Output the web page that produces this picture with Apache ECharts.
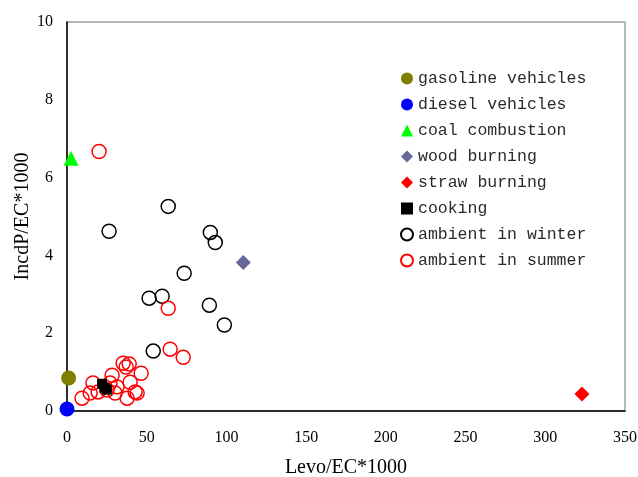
<!DOCTYPE html>
<html>
<head>
<meta charset="utf-8">
<script src="https://cdn.jsdelivr.net/npm/echarts@6/dist/echarts.min.js"></script>
<style>html,body{margin:0;padding:0;background:#fff}#c{width:638px;height:477px}</style>
</head>
<body>
<div id="c"></div>
<script>
var xTicks = [0, 50, 100, 150, 200, 250, 300, 350];
var yTicks = [0, 2, 4, 6, 8, 10];
var seriesNames = ['gasoline vehicles', 'diesel vehicles', 'coal combustion', 'wood burning', 'straw burning', 'cooking', 'ambient in winter', 'ambient in summer'];
var gasoline = [[1, 0.85]];
var diesel = [[0, 0.05]];
var coal = [[2.5, 6.5]];
var wood = [[110.6, 3.82]];
var straw = [[323, 0.44]];
var cooking = [[22, 0.7], [23.5, 0.6], [25, 0.55]];
var winter = [[63.5, 5.26], [26.4, 4.62], [89.9, 4.59], [93.0, 4.33], [73.5, 3.54], [51.5, 2.90], [59.7, 2.95], [89.3, 2.72], [98.7, 2.21], [54.1, 1.54]];
var summer = [[20.1, 6.67], [63.5, 2.64], [64.7, 1.59], [72.9, 1.38], [35.2, 1.23], [39.0, 1.21], [37.1, 1.13], [46.5, 0.97], [28.3, 0.92], [27.0, 0.72], [39.6, 0.74], [31.4, 0.62], [14.5, 0.46], [19.5, 0.49], [25.1, 0.54], [30.2, 0.46], [42.7, 0.49], [44.0, 0.46], [9.4, 0.33], [37.7, 0.33], [16.3, 0.72]];

var chart = echarts.init(document.getElementById('c'));
var serif = 'Liberation Serif';
function filled(name, data, symbol, size, color) {
  return {name: name, type: 'scatter', data: data, symbol: symbol, symbolSize: size,
    itemStyle: {color: color, opacity: 1}, z: 3};
}
function hollow(name, data, color) {
  return {name: name, type: 'scatter', data: data, symbol: 'circle', symbolSize: 14,
    itemStyle: {color: 'rgba(255,255,255,0)', borderColor: color, borderWidth: 1.5, opacity: 1}, z: 2};
}
chart.setOption({
  animation: false,
  backgroundColor: '#fff',
  grid: {left: 67, right: 13, top: 22, bottom: 66, containLabel: false, outerBoundsMode: 'none', show: true, borderColor: '#a0a0a0', borderWidth: 1.5, backgroundColor: 'rgba(0,0,0,0)'},
  legend: {
    orient: 'vertical', left: 395, top: 65, itemWidth: 12, itemHeight: 12, itemGap: 9,
    textStyle: {fontFamily: 'Liberation Mono', fontSize: 16.5, color: '#2a2a2a', lineHeight: 16},
    data: seriesNames
  },
  xAxis: {
    type: 'value', min: xTicks[0], max: xTicks[xTicks.length - 1], interval: 50,
    name: 'Levo/EC*1000', nameLocation: 'middle', nameGap: 47, nameMoveOverlap: false,
    nameTextStyle: {fontFamily: serif, fontSize: 20, color: '#000'},
    axisLine: {show: true, onZero: false, lineStyle: {color: '#000', width: 1.5}},
    axisTick: {show: false},
    splitLine: {show: false},
    axisLabel: {fontFamily: serif, fontSize: 16, color: '#000', margin: 19}
  },
  yAxis: {
    type: 'value', min: yTicks[0], max: yTicks[yTicks.length - 1], interval: 2,
    name: 'IncdP/EC*1000', nameLocation: 'middle', nameGap: 34, nameMoveOverlap: false,
    nameTextStyle: {fontFamily: serif, fontSize: 20, color: '#000'},
    axisLine: {show: true, onZero: false, lineStyle: {color: '#000', width: 1.5}},
    axisTick: {show: false},
    splitLine: {show: false},
    axisLabel: {fontFamily: serif, fontSize: 16, color: '#000', margin: 14}
  },
  series: [
    filled(seriesNames[0], gasoline, 'circle', 15, '#808000'),
    filled(seriesNames[1], diesel, 'circle', 15, '#0000ff'),
    filled(seriesNames[2], coal, 'triangle', 15, '#00ff00'),
    filled(seriesNames[3], wood, 'diamond', 15, '#666699'),
    filled(seriesNames[4], straw, 'diamond', 15, '#ff0000'),
    filled(seriesNames[5], cooking, 'rect', 10, '#000000'),
    hollow(seriesNames[6], winter, '#000000'),
    hollow(seriesNames[7], summer, '#ff0000')
  ]
});
</script>
</body>
</html>
